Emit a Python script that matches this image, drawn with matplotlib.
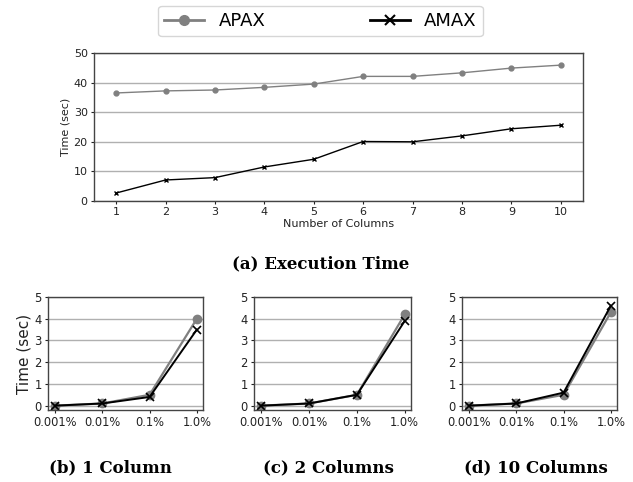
import matplotlib
matplotlib.use("Agg")
import matplotlib.pyplot as plt

W, H = 633, 482

# top chart: execution time vs number of columns
columns = [1, 2, 3, 4, 5, 6, 7, 8, 9, 10]
apax_time = [36.5, 37.2, 37.5, 38.4, 39.5, 42.1, 42.1, 43.3, 44.9, 45.9]
amax_time = [2.7, 7.1, 7.9, 11.5, 14.1, 20.1, 20.0, 22.0, 24.4, 25.6]

# bottom charts: selectivity
selectivity = ["0.001%", "0.01%", "0.1%", "1.0%"]
apax_1col = [0.0, 0.1, 0.5, 4.0]
amax_1col = [0.0, 0.1, 0.4, 3.5]
apax_2col = [0.0, 0.1, 0.5, 4.2]
amax_2col = [0.0, 0.1, 0.5, 3.9]
apax_10col = [0.0, 0.1, 0.5, 4.3]
amax_10col = [0.0, 0.1, 0.6, 4.6]

GRAY = "#808080"
SPINE = "#444444"
GRID = "#b0b0b0"
CAPTION_FONT = dict(family="DejaVu Serif", weight="bold", fontsize=12)


def px_axes(fig, x0, y0, x1, y1):
    return fig.add_axes([x0 / W, 1 - y1 / H, (x1 - x0) / W, (y1 - y0) / H])


def style(ax, labelsize):
    for s in ax.spines.values():
        s.set_color(SPINE)
        s.set_linewidth(1.0)
    ax.grid(axis="y", color=GRID, linewidth=1.0)
    ax.set_axisbelow(True)
    ax.tick_params(labelsize=labelsize, length=2.5, width=0.8, pad=2, colors="#222222")


fig = plt.figure(figsize=(W / 100, H / 100), dpi=100)

ax = px_axes(fig, 94, 53, 583, 201)
ax.plot(columns, apax_time, color=GRAY, marker="o", ms=3.5, lw=1.0)
ax.plot(columns, amax_time, color="black", marker="x", ms=3.5, lw=1.0, mew=1.0)
ax.set_ylim(0, 50)
ax.set_xticks(columns)
ax.set_yticks([0, 10, 20, 30, 40, 50])
style(ax, 8)
ax.set_xlabel("Number of Columns", fontsize=8, labelpad=1, color="#222222")
ax.set_ylabel("Time (sec)", fontsize=8, labelpad=2, color="#222222")

# legend entries with bigger markers
h1, = ax.plot([], [], color=GRAY, marker="o", ms=7, lw=2)
h2, = ax.plot([], [], color="black", marker="x", ms=7, lw=2, mew=1.5)
fig.legend([h1, h2], ["APAX", "AMAX"], loc="center", bbox_to_anchor=(320.5 / W, 1 - 21 / H),
           ncol=2, fontsize=13, columnspacing=5.8, handlelength=2.2, handletextpad=0.8,
           frameon=True, edgecolor="#cccccc", fancybox=True, borderpad=0.35)

fig.text(321 / W, 1 - 264 / H, "(a) Execution Time", ha="center", va="center", **CAPTION_FONT)

panels = [
    (48, 203, apax_1col, amax_1col, "(b) 1 Column", 110),
    (254, 411, apax_2col, amax_2col, "(c) 2 Columns", 328),
    (462, 617, apax_10col, amax_10col, "(d) 10 Columns", 536),
]
xs = list(range(len(selectivity)))
for i, (x0, x1, apax, amax, caption, cx) in enumerate(panels):
    a = px_axes(fig, x0, 297, x1, 410)
    a.plot(xs, apax, color=GRAY, marker="o", ms=6, lw=1.6)
    a.plot(xs, amax, color="black", marker="x", ms=6, lw=1.4, mew=1.2)
    a.set_xlim(-0.15, 3.13)
    a.set_ylim(-0.2, 5)
    a.set_yticks([0, 1, 2, 3, 4, 5])
    a.set_xticks(xs)
    a.set_xticklabels(selectivity)
    style(a, 8.3)
    if i == 0:
        a.set_ylabel("Time (sec)", fontsize=11, labelpad=2, color="#222222")
    fig.text(cx / W, 1 - 468 / H, caption, ha="center", va="center", **CAPTION_FONT)

fig.savefig("out.png", dpi=100)
